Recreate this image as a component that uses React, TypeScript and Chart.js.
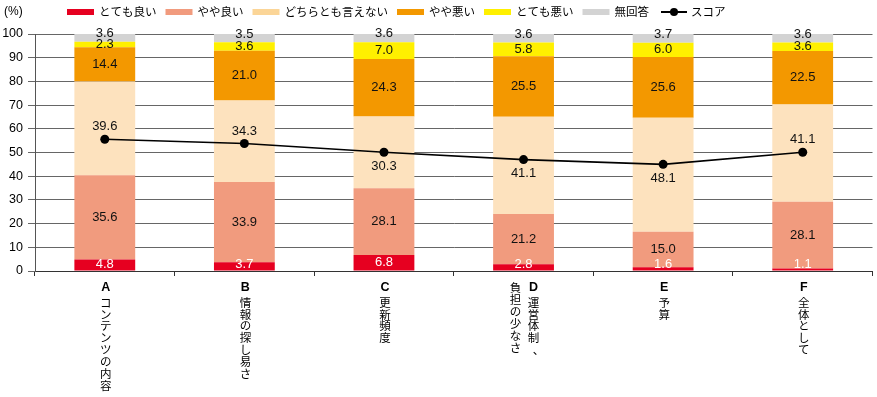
import React, { useEffect, useRef } from 'react';
import { Chart, registerables } from 'chart.js';

Chart.register(...registerables);

// ---- data ----
const categoryLetters = ['A', 'B', 'C', 'D', 'E', 'F'];
const categoryNames = [
  ['コンテンツの内容'],
  ['情報の探し易さ'],
  ['更新頻度'],
  ['運営体制、', '負担の少なさ'],
  ['予算'],
  ['全体として'],
];
const seriesNames = ['とても良い', 'やや良い', 'どちらとも言えない', 'やや悪い', 'とても悪い', '無回答'];
const veryGood = [4.8, 3.7, 6.8, 2.8, 1.6, 1.1];
const good = [35.6, 33.9, 28.1, 21.2, 15.0, 28.1];
const neutral = [39.6, 34.3, 30.3, 41.1, 48.1, 41.1];
const bad = [14.4, 21.0, 24.3, 25.5, 25.6, 22.5];
const veryBad = [2.3, 3.6, 7.0, 5.8, 6.0, 3.6];
const noAnswer = [3.6, 3.5, 3.6, 3.6, 3.7, 3.6];
const scoreName = 'スコア';
const scores = [55.6, 53.8, 50.1, 47.0, 45.0, 50.1];
const unitLabel = '(%)';

const seriesValues = [veryGood, good, neutral, bad, veryBad, noAnswer];

// ---- styles ----
const barColors = ['#E60020', '#F19B7E', '#FDE2BE', '#F39800', '#FFF000', '#D3D3D3'];
const legendColors = ['#E60020', '#F19B7E', '#FBD597', '#F39800', '#FFF000', '#D3D3D3'];
// side to push a neutral-segment label when it would collide with the score marker (-1 above, 1 below)
const neutralLabelSide = [-1, -1, 1, 1, 1, -1];

const FONT = '"Liberation Sans", Arial, "Noto Sans CJK JP", sans-serif';

const topLegend = {
  id: 'topLegend',
  afterDraw(chart: any) {
    const ctx = chart.ctx;
    ctx.save();
    ctx.textBaseline = 'middle';
    ctx.textAlign = 'left';
    ctx.fillStyle = '#000';
    ctx.font = `12px ${FONT}`;
    ctx.fillText(unitLabel, 4, 12);
    ctx.font = `11.5px ${FONT}`;
    let x = 67;
    const yc = 12;
    const n = seriesNames.length;
    for (let i = 0; i < n; i++) {
      ctx.fillStyle = legendColors[i];
      ctx.fillRect(x, yc - 3, 27, 6);
      x += 27 + 5;
      ctx.fillStyle = '#000';
      const label = chart.data.datasets[i].label;
      ctx.fillText(label, x, yc + 0.5);
      x += ctx.measureText(label).width + 9;
    }
    x += 3;
    ctx.strokeStyle = '#000';
    ctx.lineWidth = 2;
    ctx.beginPath();
    ctx.moveTo(x, yc);
    ctx.lineTo(x + 26, yc);
    ctx.stroke();
    ctx.beginPath();
    ctx.arc(x + 13, yc, 4, 0, Math.PI * 2);
    ctx.fillStyle = '#000';
    ctx.fill();
    ctx.fillText(scoreName, x + 30, yc + 0.5);
    ctx.restore();
  },
};

const valueLabels = {
  id: 'valueLabels',
  afterDatasetsDraw(chart: any) {
    const ctx = chart.ctx;
    ctx.save();
    ctx.font = `13px ${FONT}`;
    ctx.textAlign = 'center';
    ctx.textBaseline = 'middle';
    const lineMeta = chart.getDatasetMeta(seriesValues.length);
    for (let di = 0; di < seriesValues.length; di++) {
      const meta = chart.getDatasetMeta(di);
      meta.data.forEach((el: any, i: number) => {
        const p = el.getProps(['x', 'y', 'base'], true);
        let cy = (p.y + p.base) / 2;
        if (di === seriesValues.length - 1) cy = p.y;
        if (di === 0) cy = Math.min(cy, p.base - 6);
        if (di === 2) {
          const pt = lineMeta.data[i];
          if (pt && Math.abs(cy - pt.y) < 13) {
            cy = neutralLabelSide[i] < 0 ? pt.y - 12.5 : pt.y + 14;
          }
        }
        ctx.fillStyle = di === 0 ? '#fff' : '#111';
        ctx.fillText(seriesValues[di][i].toFixed(1), p.x, cy);
      });
    }
    ctx.restore();
  },
};

const xLabels = {
  id: 'xLabels',
  afterDraw(chart: any) {
    const ctx = chart.ctx;
    const xs = chart.scales.x;
    const fs = 11.5;
    const pitch = 11.9;
    ctx.save();
    ctx.textAlign = 'center';
    ctx.textBaseline = 'middle';
    ctx.fillStyle = '#000';
    const top = chart.chartArea.bottom + 17;
    categoryLetters.forEach((letter: string, i: number) => {
      const cx = xs.getPixelForValue(i);
      const cols = categoryNames[i];
      const nc = cols.length;
      cols.forEach((col: string, ci: number) => {
        // first column is rightmost (vertical writing)
        const colX = cx + 1 + ((nc - 1) / 2 - ci) * 18;
        let y = top;
        if (ci === 0) {
          ctx.font = `bold 12.5px ${FONT}`;
          ctx.fillText(letter, colX, y);
          y += 15.5;
        } else {
          y += 1;
        }
        ctx.font = `${fs}px ${FONT}`;
        for (const ch of Array.from(col)) {
          if (ch === '、') {
            ctx.fillText(ch, colX + 5, y);
          } else {
            ctx.fillText(ch, colX, y);
          }
          y += pitch;
        }
      });
    });
    ctx.restore();
  },
};

export default function App() {
  const ref = useRef<HTMLCanvasElement>(null);
  useEffect(() => {
    if (!ref.current) return;
    Chart.defaults.font.family = FONT;
    const datasets: any[] = seriesNames.map((name, i) => ({
      type: 'bar',
      label: name,
      data: seriesValues[i],
      backgroundColor: barColors[i],
      borderWidth: 0,
      barPercentage: 61 / 140,
      categoryPercentage: 1,
      stack: 'answers',
      order: 1,
    }));
    datasets.push({
      type: 'line',
      label: scoreName,
      data: scores,
      borderColor: '#000',
      backgroundColor: '#000',
      borderWidth: 1.6,
      pointRadius: 4.5,
      pointBackgroundColor: '#000',
      pointBorderWidth: 0,
      order: 0,
      tension: 0,
    });
    const chart = new Chart(ref.current, {
      type: 'bar',
      data: { labels: categoryLetters, datasets },
      options: {
        animation: false,
        responsive: false,
        events: [],
        layout: { padding: { top: 34, right: 2, left: 0, bottom: 0 } },
        plugins: { legend: { display: false }, tooltip: { enabled: false } },
        scales: {
          x: {
            stacked: true,
            ticks: { display: false },
            grid: {
              offset: true,
              drawOnChartArea: false,
              drawTicks: true,
              tickLength: 5,
              color: '#333',
            },
            border: { display: true, color: '#333', width: 1 },
            afterFit: (s: any) => {
              s.height = 126;
            },
          },
          y: {
            stacked: true,
            min: 0,
            max: 100,
            ticks: { stepSize: 10, padding: 5, color: '#000', font: { size: 12.5 } },
            grid: { color: '#666', tickLength: 7, lineWidth: 1 },
            border: { display: true, color: '#555' },
            afterFit: (s: any) => {
              s.width = 35;
            },
          },
        },
      },
      plugins: [valueLabels, xLabels, topLegend],
    } as any);
    return () => chart.destroy();
  }, []);
  return (
    <div style={{ position: 'fixed', left: 0, top: 0, width: 877, height: 397, background: '#fff' }}>
      <canvas ref={ref} width={877} height={397} />
    </div>
  );
}
